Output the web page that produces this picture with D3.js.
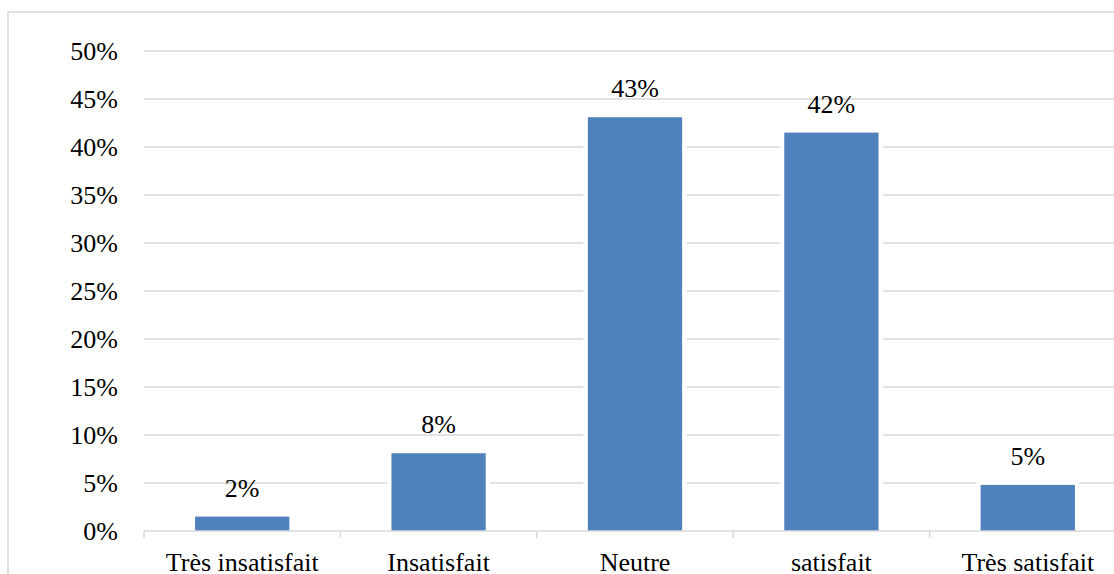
<!DOCTYPE html>
<html>
<head>
<meta charset="utf-8">
<script src="https://cdn.jsdelivr.net/npm/d3@7"></script>
<style>
  html, body { margin: 0; padding: 0; background: #fff; }
  svg { display: block; }
  svg text { font-family: 'Liberation Serif', 'Times New Roman', serif !important; fill: #000; }
</style>
</head>
<body>
<svg id="chart" width="1114" height="574"></svg>
<script>
const categories = ["Très insatisfait", "Insatisfait", "Neutre", "satisfait", "Très satisfait"];
const values = [1.5, 8.1, 43.1, 41.5, 4.8];
const valueLabels = ["2%", "8%", "43%", "42%", "5%"];
const yTicks = [0, 5, 10, 15, 20, 25, 30, 35, 40, 45, 50];

const svg = d3.select("#chart");
const W = 1114, H = 574;
const plot = { left: 144, right: 1126, top: 51, bottom: 531 };
const grid = "#d9d9d9";
const barColor = "#4f81bd";
const serif = "'Liberation Serif', 'Times New Roman', serif";

// outer chart border
svg.append("rect")
  .attr("x", 8).attr("y", 12)
  .attr("width", W + 20).attr("height", H + 20)
  .attr("fill", "#fff").attr("stroke", grid).attr("stroke-width", 1.5);

const x = d3.scaleBand().domain(categories).range([plot.left, plot.right])
  .paddingInner(0.52).paddingOuter(0.26);
const y = d3.scaleLinear().domain([0, 50]).range([plot.bottom, plot.top]);

// gridlines
svg.append("g").selectAll("line").data(yTicks.filter(d => d > 0)).join("line")
  .attr("x1", plot.left).attr("x2", plot.right)
  .attr("y1", d => y(d)).attr("y2", d => y(d))
  .attr("stroke", grid).attr("stroke-width", 1.5);

// y axis labels
const yAxis = d3.axisLeft(y).tickValues(yTicks).tickFormat(d => d + "%").tickSize(0).tickPadding(26);
const gy = svg.append("g").attr("transform", `translate(${plot.left},0)`).call(yAxis);
gy.attr("font-family", null).attr("font-size", null);
gy.select(".domain").remove();
gy.selectAll("text").style("font-size", "26px").style("font-family", serif).attr("fill", "#000");

// bars (white outline behind)
const step = x.step();
svg.append("g").selectAll("rect").data(values).join("rect")
  .attr("x", (d, i) => x(categories[i]) - 4.5)
  .attr("y", d => y(d) - 4.5)
  .attr("width", x.bandwidth() + 9)
  .attr("height", d => y(0) - y(d) + 4.5)
  .attr("fill", "#fff");
svg.append("g").selectAll("rect").data(values).join("rect")
  .attr("x", (d, i) => x(categories[i]))
  .attr("y", d => y(d))
  .attr("width", x.bandwidth())
  .attr("height", d => y(0) - y(d))
  .attr("fill", barColor);

// x axis
const xAxis = d3.axisBottom(x).tickSize(0).tickPadding(22);
const gx = svg.append("g").attr("transform", `translate(0,${plot.bottom})`).call(xAxis);
gx.attr("font-family", null).attr("font-size", null);
gx.select(".domain").attr("stroke", grid).attr("stroke-width", 1.5)
  .attr("d", `M${plot.left},0H${plot.right}`);
gx.selectAll("text").style("font-size", "26px").style("font-family", serif).attr("fill", "#000");
// category boundary ticks
const bounds = d3.range(categories.length + 1).map(i => plot.left + i * step);
svg.append("g").selectAll("line").data(bounds).join("line")
  .attr("x1", d => d).attr("x2", d => d)
  .attr("y1", plot.bottom).attr("y2", plot.bottom + 7)
  .attr("stroke", grid).attr("stroke-width", 1.5);

// value labels
svg.append("g").selectAll("text").data(values).join("text")
  .attr("x", (d, i) => x(categories[i]) + x.bandwidth() / 2)
  .attr("y", d => y(d) - 20)
  .attr("text-anchor", "middle")
  .style("font-size", "26px")
  .style("font-family", serif)
  .text((d, i) => valueLabels[i]);
</script>
</body>
</html>
